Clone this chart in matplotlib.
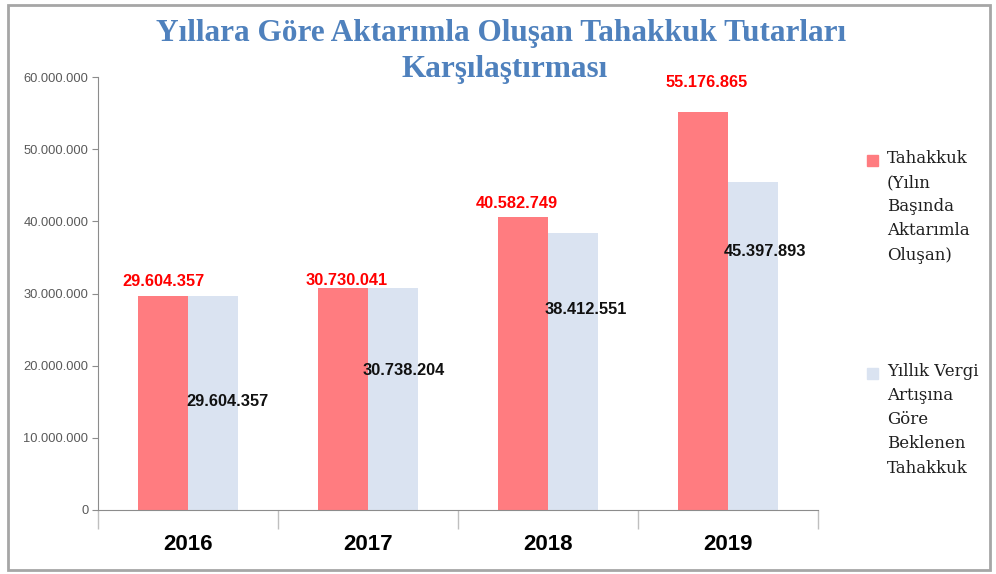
import matplotlib.pyplot as plt
from matplotlib.patches import Rectangle
from matplotlib.ticker import FuncFormatter, FixedLocator

years = ['2016', '2017', '2018', '2019']
tahakkuk = [29604357, 30730041, 40582749, 55176865]
beklenen = [29604357, 30738204, 38412551, 45397893]
title_lines = ['Yıllara Göre Aktarımla Oluşan Tahakkuk Tutarları', 'Karşılaştırması']
legend_labels = ['Tahakkuk\n(Yılın\nBaşında\nAktarımla\nOluşan)',
                 'Yıllık Vergi\nArtışına\nGöre\nBeklenen\nTahakkuk']

red = '#FF7C80'
blue = '#DAE3F1'
grey = '#8C8C8C'

def dotted(v):
    return f'{int(v):,}'.replace(',', '.')

fig = plt.figure(figsize=(9.96, 5.74), dpi=100)
fig.patch.set_facecolor('white')

# outer frame
fig.add_artist(Rectangle((8/996, 1-570/574), 982/996, 565/574, transform=fig.transFigure,
                         fill=False, edgecolor='#A6A6A6', linewidth=2))

ax = fig.add_axes([98/996, 1-510/574, 720/996, 433/574])
x = range(len(years))
w = 0.28
ax.bar([i - w/2 for i in x], tahakkuk, width=w, color=red, zorder=2)
ax.bar([i + w/2 for i in x], beklenen, width=w, color=blue, zorder=2)

ax.set_xlim(-0.5, 3.5)
ax.set_ylim(0, 60000000)
ax.set_yticks(range(0, 60000001, 10000000))
ax.yaxis.set_major_formatter(FuncFormatter(lambda v, p: dotted(v)))
ax.tick_params(axis='y', length=4, color=grey, labelsize=9.3, labelcolor='#595959', pad=3)
for t in ax.get_yticklabels():
    t.set_family('Liberation Sans')

ax.set_xticks(list(x))
ax.set_xticklabels(years, fontsize=16, fontweight='bold', family='Liberation Sans')
ax.tick_params(axis='x', which='major', length=0, pad=17)
ax.xaxis.set_minor_locator(FixedLocator([-0.5, 0.5, 1.5, 2.5, 3.5]))
ax.tick_params(axis='x', which='minor', length=14, color='#BFBFBF', width=1)

for s in ['top', 'right']:
    ax.spines[s].set_visible(False)
ax.spines['left'].set_color(grey)
ax.spines['bottom'].set_color(grey)

# value labels
red_off = [(1, 15), (4, 8), (-6, 14), (4, 29)]
blue_frac = [0.507, 0.63, 0.725, 0.79]
blue_dx = [14, 11, 13, 12]
for i in x:
    ax.annotate(dotted(tahakkuk[i]), (i - w/2, tahakkuk[i]), xytext=red_off[i],
                textcoords='offset pixels', ha='center', va='center',
                color='#FF0000', fontsize=11.8, fontweight='bold', family='Liberation Sans')
    ax.annotate(dotted(beklenen[i]), (i + w/2, beklenen[i] * blue_frac[i]),
                xytext=(blue_dx[i], 0), textcoords='offset pixels', ha='center', va='center',
                color='#111111', fontsize=11.8, fontweight='bold', family='Liberation Sans')

# two-line title
for line, xc, yc in zip(title_lines, [501, 505], [33, 70]):
    fig.text(xc/996, 1-yc/574, line, ha='center', va='center', fontsize=22.5,
             fontweight='bold', color='#4F81BD', family='Liberation Serif')

# legend
for lab, col, ytop in zip(legend_labels, [red, blue], [154, 367]):
    fig.add_artist(Rectangle((867/996, 1-(ytop+12)/574), 11/996, 11/574,
                             transform=fig.transFigure, color=col))
    fig.text(887/996, 1-(ytop-4)/574, lab, ha='left', va='top', fontsize=12,
             family='DejaVu Serif', color='#1F1F1F', linespacing=1.55)

fig.savefig('out.png', dpi=100)
